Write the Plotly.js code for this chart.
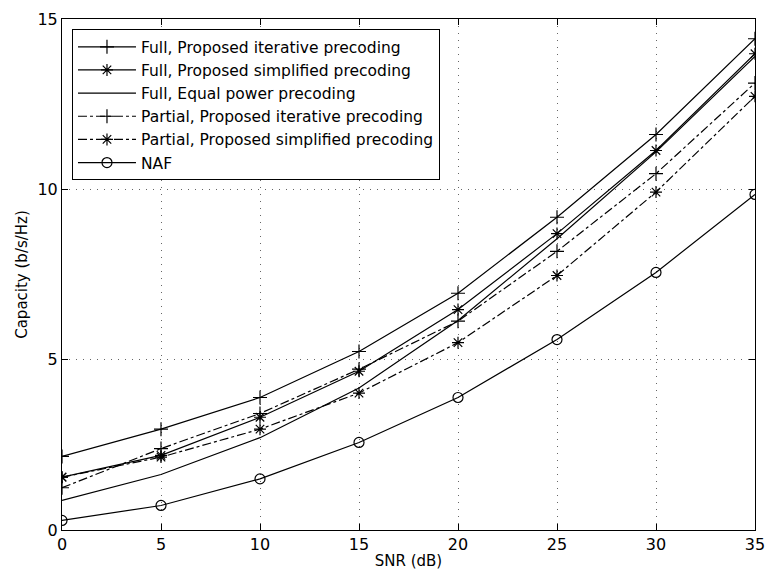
<!DOCTYPE html>
<html><head><meta charset="utf-8">
<script src="https://cdn.plot.ly/plotly-3.0.1.min.js"></script>
<style>body{margin:0;background:#fff}#c{width:767px;height:578px}</style>
</head><body><div id="c"></div>
<script>
const snr = [0, 5, 10, 15, 20, 25, 30, 35];
const fullIter = [2.16, 2.96, 3.89, 5.24, 6.95, 9.18, 11.61, 14.42];
const fullSimp = [1.55, 2.19, 3.31, 4.66, 6.47, 8.70, 11.14, 13.98];
const fullEqual = [0.87, 1.63, 2.71, 4.17, 6.15, 8.55, 11.10, 13.90];
const partIter = [1.24, 2.39, 3.42, 4.72, 6.13, 8.18, 10.46, 13.12];
const partSimp = [1.55, 2.14, 2.96, 4.02, 5.50, 7.47, 9.92, 12.73];
const naf = [0.28, 0.72, 1.50, 2.57, 3.89, 5.59, 7.56, 9.85];
const names = ["Full, Proposed iterative precoding","Full, Proposed simplified precoding","Full, Equal power precoding","Partial, Proposed iterative precoding","Partial, Proposed simplified precoding","NAF"];
const FONT = 'DejaVu Sans, Liberation Sans, Arial, sans-serif';

function tr(y, name, sym, dash, mode){
  return {x: snr, y: y, name: name, type:'scatter', mode: mode,
    line:{color:'#000', width:1.2, dash:dash},
    marker:{symbol:sym, size:10, color:'#000', line:{color:'#000', width:1.2}}};
}
const data = [
  tr(fullIter, names[0], 'cross-thin-open', 'solid', 'lines+markers'),
  tr(fullSimp, names[1], 'asterisk-open', 'solid', 'lines+markers'),
  tr(fullEqual, names[2], 'circle', 'solid', 'lines'),
  tr(partIter, names[3], 'cross-thin-open', 'dashdot', 'lines+markers'),
  tr(partSimp, names[4], 'asterisk-open', 'dashdot', 'lines+markers'),
  tr(naf, names[5], 'circle-open', 'solid', 'lines+markers')
];
const axisCommon = {showline:true, mirror:'ticks', linecolor:'#000', linewidth:1,
  ticks:'inside', ticklen:6, tickcolor:'#000', showgrid:true, gridcolor:'#666',
  griddash:'1px,6px', gridwidth:1, zeroline:false,
  tickfont:{family:FONT, size:16, color:'#000'}};
const layout = {
  width:767, height:578,
  margin:{l:62, r:12, t:19, b:48},
  paper_bgcolor:'#fff', plot_bgcolor:'#fff',
  showlegend:true,
  xaxis: Object.assign({}, axisCommon, {range:[0,35], tickvals:[0,5,10,15,20,25,30,35],
    title:{text:'SNR (dB)', standoff:2, font:{family:FONT, size:15, color:'#000'}}}),
  yaxis: Object.assign({}, axisCommon, {range:[0,15], tickvals:[0,5,10,15],
    title:{text:'Capacity (b/s/Hz)', standoff:6, font:{family:FONT, size:15, color:'#000'}}}),
  legend:{x:0.0144, y:0.98, xanchor:'left', yanchor:'top', bgcolor:'#fff',
    bordercolor:'#000', borderwidth:1, itemwidth:58, tracegroupgap:0,
    font:{family:FONT, size:15.5, color:'#000'}}
};
Plotly.newPlot('c', data, layout, {displayModeBar:false});
</script></body></html>
